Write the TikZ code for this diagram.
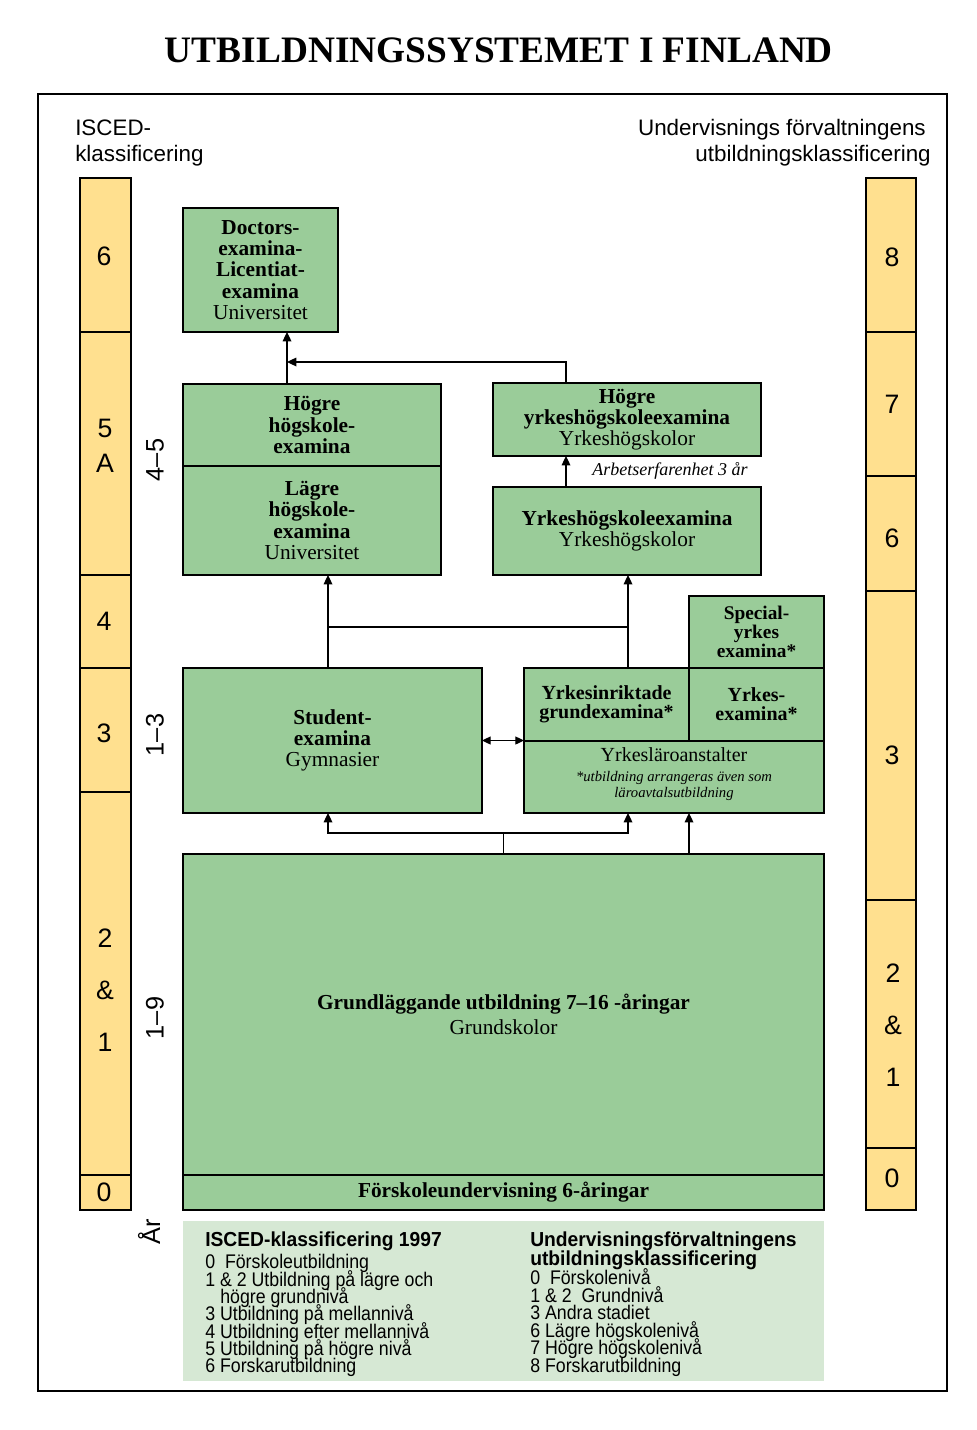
\documentclass[tikz,border=0pt]{standalone}
\usepackage{fontspec}
\setmainfont{Liberation Serif}
\setsansfont{Liberation Sans}
\newfontfamily\legfont[FakeStretch=0.9]{Liberation Sans}
\newfontfamily\legbfont[FakeStretch=0.95]{Liberation Sans Bold}
\usetikzlibrary{arrows.meta}
\definecolor{boxgreen}{RGB}{154,204,153}
\definecolor{colyellow}{RGB}{255,224,143}
\definecolor{legendgreen}{RGB}{214,232,212}
\begin{document}
\begin{tikzpicture}[x=0.75pt,y=-0.75pt,
  sz/.style 2 args={minimum width={(#1)*0.75pt}, minimum height={(#2)*0.75pt}},
  box/.style={draw, line width=0.9pt, fill=boxgreen, inner sep=0pt, outer sep=0pt, align=center,
              font=\fontsize{16}{15.94}\selectfont},
  col/.style={draw, line width=0.9pt, fill=colyellow, inner sep=0pt, outer sep=0pt},
  num/.style={inner sep=0pt, align=center, font=\sffamily\fontsize{20}{24}\selectfont},
  conn/.style={line width=0.9pt},
  arr/.style={line width=0.9pt, -{Triangle[length=7pt,width=6.5pt]}},
  dbl/.style={line width=0.9pt, {Triangle[length=6.5pt,width=6pt]}-{Triangle[length=6.5pt,width=6pt]}},
  hdr/.style={font=\sffamily\fontsize{16.8}{19.5}\selectfont, inner sep=0pt},
  rot/.style={font=\sffamily\fontsize{19}{22}\selectfont, inner sep=0pt, rotate=90},
  txt/.style={inner sep=0pt, align=center},
  leg/.style={font=\legfont\fontsize{14.8}{13}\selectfont, inner sep=0pt, anchor=base west},
  legb/.style={font=\legbfont\fontsize{15.2}{14}\selectfont, inner sep=0pt, anchor=base west}
]
\useasboundingbox (0,0) rectangle (977,1430);
\fill[white] (0,0) rectangle (977,1430);

% title
\node[inner sep=0pt, font=\bfseries\fontsize{28}{30}\selectfont] (title) at (499,50) {UTBILDNINGSSYSTEMET I FINLAND};

% frame
\draw[line width=0.9pt] (38,94) rectangle (947,1391);

% headers
\node[hdr, anchor=base west] (hl1) at (75,136) {ISCED-};
\node[hdr, anchor=base west] (hl2) at (75,162) {klassificering};
\node[hdr, anchor=base east] (hr1) at (926,136) {Undervisnings förvaltningens};
\node[hdr, anchor=base east] (hr2) at (931,162) {utbildningsklassificering};

% left ISCED column
\node[col, sz={51}{154}] (l6) at (105.5,255) {};
\node[col, sz={51}{243}] (l5) at (105.5,453.5) {};
\node[col, sz={51}{93}] (l4) at (105.5,621.5) {};
\node[col, sz={51}{124}] (l3) at (105.5,730) {};
\node[col, sz={51}{383}] (l21) at (105.5,983.5) {};
\node[col, sz={51}{35}] (l0) at (105.5,1192.5) {};
\node[num] (t6) at (104,256) {6};
\node[num, font=\sffamily\fontsize{20}{26}\selectfont] (t5) at (105,446) {5\\A};
\node[num] (t4) at (104,621) {4};
\node[num] (t3) at (104,733) {3};
\node[num, font=\sffamily\fontsize{20}{39}\selectfont] (t21) at (105,990) {2\\\&\\1};
\node[num] (t0) at (104,1192) {0};

% right column
\node[col, sz={50}{154}] (r8) at (891,255) {};
\node[col, sz={50}{144}] (r7) at (891,404) {};
\node[col, sz={50}{115}] (r6) at (891,533.5) {};
\node[col, sz={50}{309}] (r3) at (891,745.5) {};
\node[col, sz={50}{248}] (r21) at (891,1024) {};
\node[col, sz={50}{62}] (r0) at (891,1179) {};
\node[num] (s8) at (892,257) {8};
\node[num] (s7) at (892,404) {7};
\node[num] (s6) at (892,538) {6};
\node[num] (s3) at (892,755) {3};
\node[num, font=\sffamily\fontsize{20}{39}\selectfont] (s21) at (893,1025.5) {2\\\&\\1};
\node[num] (s0) at (892,1178) {0};

% year labels
\node[rot] (y45) at (155,460) {4–5};
\node[rot] (y13) at (155,735) {1–3};
\node[rot] (y19) at (155,1018) {1–9};
\node[rot] (yar) at (149,1232) {År};

% boxes
\node[box, sz={155}{124}] (doc) at (260.5,270) {\textbf{Doctors-}\\\textbf{examina-}\\\textbf{Licentiat-}\\\textbf{examina}\\Universitet};
\node[box, sz={258}{82}] (hh) at (312,425) {\textbf{Högre}\\\textbf{högskole-}\\\textbf{examina}};
\node[box, sz={258}{109}] (lh) at (312,520.5) {\textbf{Lägre}\\\textbf{högskole-}\\\textbf{examina}\\Universitet};
\node[box, sz={268}{73}] (hy) at (627,419.5) {\textbf{Högre}\\\textbf{yrkeshögskoleexamina}\\Yrkeshögskolor};
\node[box, sz={268}{88}] (yh) at (627,531) {\textbf{Yrkeshögskoleexamina}\\Yrkeshögskolor};
\node[txt, font=\itshape\fontsize{13.5}{15}\selectfont] (arb) at (670,471) {Arbetserfarenhet 3 år};

\node[box, sz={299}{145}] (st) at (332.5,740.5) {\textbf{Student-}\\\textbf{examina}\\Gymnasier};
\node[box, sz={135}{72}, font=\fontsize{14.5}{12.75}\selectfont] (sp) at (756.5,632) {\textbf{Special-}\\\textbf{yrkes}\\\textbf{examina*}};
\node[box, sz={165}{73}, font=\fontsize{15}{14.25}\selectfont] (yi) at (606.5,704.5) {\textbf{Yrkesinriktade}\\\textbf{grundexamina*}};
\node[box, sz={135}{73}, font=\fontsize{15}{14.25}\selectfont] (ye) at (756.5,704.5) {\textbf{Yrkes-}\\\textbf{examina*}};
\node[box, sz={300}{72}] (yl) at (674,777) {};
\node[txt, font=\fontsize{15}{16}\selectfont] (ylt) at (674,755) {Yrkesläroanstalter};
\node[txt, font=\itshape\fontsize{11}{12}\selectfont] (yln) at (674,786) {*utbildning arrangeras även som\\läroavtalsutbildning};

\node[box, sz={641}{321}] (gr) at (503.5,1014.5) {\textbf{Grundläggande utbildning 7–16 -åringar}\\[3pt]Grundskolor};
\node[box, sz={641}{35}] (fs) at (503.5,1192.5) {\textbf{Förskoleundervisning 6-åringar}};

% connectors
\coordinate (jA) at (287,362);
\coordinate (jB) at (566,362);
\coordinate (jC) at (328,627);
\coordinate (jD) at (628,627);
\coordinate (jE) at (503.5,833);
\coordinate (jF) at (689,833);

\draw[arr] (hh.north -| jA) -- (doc.south -| jA);
\draw[arr] (hy.north -| jB) |- (jA);
\draw[arr] (yh.north -| jB) -- (hy.south -| jB);
\draw[arr] (st.north -| jC) -- (lh.south -| jC);
\draw[arr] (yi.north -| jD) -- (yh.south -| jD);
\draw[conn] (jC) -- (jD);
\draw[dbl] (st.east) -- (st.east -| yi.west);
\draw[conn] (gr.north) -- (jE);
\draw[arr] (jE) -| (st.south -| jC);
\draw[arr] (jE) -| (yl.south -| jD);
\draw[arr] (gr.north -| jF) -- (yl.south -| jF);

% legend
\fill[legendgreen] (183,1221) rectangle (824,1381);
\node[legb] (la0) at (205,1246) {ISCED-klassificering 1997};
\node[leg] (la1) at (205,1268) {0\ \ Förskoleutbildning};
\node[leg] (la2) at (205,1286) {1 \& 2 Utbildning på lägre och};
\node[leg] (la3) at (220,1303) {högre grundnivå};
\node[leg] (la4) at (205,1320) {3 Utbildning på mellannivå};
\node[leg] (la5) at (205,1338) {4 Utbildning efter mellannivå};
\node[leg] (la6) at (205,1355) {5 Utbildning på högre nivå};
\node[leg] (la7) at (205,1372) {6 Forskarutbildning};

\node[legb] (lb0) at (530,1246) {Undervisningsförvaltningens};
\node[legb] (lb1) at (530,1265) {utbildningsklassificering};
\node[leg] (lb2) at (530,1284) {0\ \ Förskolenivå};
\node[leg] (lb3) at (530,1302) {1 \& 2\ \ Grundnivå};
\node[leg] (lb4) at (530,1319) {3 Andra stadiet};
\node[leg] (lb5) at (530,1337) {6 Lägre högskolenivå};
\node[leg] (lb6) at (530,1354) {7 Högre högskolenivå};
\node[leg] (lb7) at (530,1372) {8 Forskarutbildning};
\end{tikzpicture}
\end{document}
